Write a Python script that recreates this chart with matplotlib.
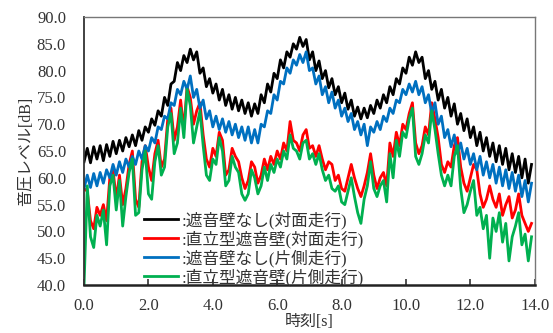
import matplotlib.pyplot as plt
import numpy as np

plt.rcParams['font.family'] = ['Liberation Serif', 'Noto Sans CJK JP', 'DejaVu Sans']

# 時刻 [s] (0.1 s 間隔)
t = np.round(np.arange(0, 14.0, 0.1), 1)

# 遮音壁なし(対面走行)
black = [63.0, 65.5, 62.8, 65.8, 63.5, 66.0, 63.2, 66.2, 64.0, 66.8,
         64.5, 67.0, 65.0, 67.5, 65.8, 68.0, 66.0, 68.8, 67.0, 69.5,
         68.5, 71.0, 69.8, 72.5, 71.5, 75.0, 73.5, 77.5, 78.0, 81.5,
         80.0, 82.8, 81.5, 84.0, 82.0, 83.5, 79.5, 80.5, 77.0, 78.5,
         75.8, 77.5, 74.5, 76.5, 73.5, 75.5, 72.8, 75.0, 72.5, 74.5,
         72.0, 74.0, 71.5, 73.8, 72.0, 75.5, 74.0, 77.5, 76.0, 79.5,
         78.5, 82.0, 80.5, 83.5, 82.5, 85.0, 84.0, 86.2, 84.5, 85.8,
         82.0, 83.5, 80.0, 81.8, 78.5, 80.0, 76.8, 78.5, 75.5, 77.0,
         74.0, 75.8, 72.8, 74.5, 71.5, 73.2, 71.0, 73.0, 71.2, 73.5,
         72.0, 74.5, 73.0, 75.5, 74.0, 77.0, 75.5, 78.5, 77.5, 80.5,
         79.5, 82.5, 81.0, 83.5, 81.5, 82.5, 78.5, 80.0, 76.5, 78.0,
         74.5, 76.5, 73.0, 75.0, 71.5, 73.8, 70.0, 72.0, 68.8, 71.0,
         67.5, 69.5, 66.0, 68.5, 65.0, 67.5, 64.0, 66.5, 63.0, 66.0,
         62.5, 65.5, 61.5, 64.5, 61.0, 64.0, 60.0, 63.5, 59.0, 62.5]

# 直立型遮音壁(対面走行)
red = [58.0, 57.5, 52.0, 50.5, 54.5, 53.0, 55.0, 52.0, 60.0, 61.5,
       56.0, 60.5, 55.0, 58.0, 62.5, 65.0, 56.0, 54.5, 63.0, 66.0,
       62.0, 59.5, 64.5, 67.0, 62.0, 63.5, 71.0, 73.0, 67.0, 69.5,
       74.5, 69.0, 77.0, 75.0, 70.0, 72.5, 74.0, 68.0, 63.5, 62.0,
       65.5, 64.0, 68.5, 67.0, 60.5, 61.5, 65.5, 64.0, 63.0, 60.0,
       58.0, 59.5, 63.0, 62.0, 59.0, 60.5, 63.5, 61.5, 64.0, 62.5,
       65.0, 63.5, 66.5, 65.0, 70.5, 67.0, 66.5, 65.0, 68.0, 69.0,
       65.5, 66.0, 64.0, 66.0, 63.5, 61.5, 63.0, 62.5, 59.5, 60.5,
       58.0, 57.5, 60.0, 62.5, 60.0, 58.0, 56.5, 58.5, 61.0, 64.5,
       60.5, 58.0, 60.0, 61.0, 58.5, 66.5, 64.0, 68.5, 66.0, 70.0,
       69.0, 72.0, 74.0, 66.5, 64.5, 66.0, 69.5, 68.0, 74.0, 71.0,
       67.5, 62.5, 61.0, 63.0, 62.0, 66.0, 67.5, 62.0, 59.0, 57.5,
       60.0, 62.5, 61.5, 57.0, 54.5, 56.0, 58.5, 56.0, 54.5, 57.0,
       53.0, 55.0, 56.5, 52.5, 54.0, 57.0, 53.0, 51.5, 50.0, 51.5]

# 遮音壁なし(片側走行)
blue = [58.0, 60.5, 58.2, 60.8, 58.5, 61.0, 59.0, 61.5, 60.0, 62.5,
        60.5, 63.0, 61.0, 63.5, 62.0, 64.0, 62.5, 65.0, 63.5, 66.0,
        65.0, 67.5, 66.5, 69.5, 69.0, 71.5, 71.0, 74.0, 73.5, 76.5,
        75.5, 78.0, 76.5, 79.0, 75.0, 76.5, 73.0, 74.5, 71.0, 72.5,
        69.5, 71.5, 69.0, 71.0, 68.5, 70.5, 68.0, 70.0, 67.5, 69.5,
        67.0, 69.5, 66.5, 69.0, 66.5, 70.0, 69.5, 72.5, 72.0, 75.5,
        74.5, 78.0, 77.5, 80.5, 79.5, 82.0, 81.0, 83.0, 81.5, 83.5,
        80.0, 80.5, 77.5, 79.0, 75.5, 77.0, 74.0, 76.0, 73.0, 74.5,
        71.5, 73.0, 70.5, 72.0, 69.0, 70.5, 68.0, 70.0, 66.0, 69.5,
        68.5, 70.5, 69.0, 71.5, 70.5, 73.0, 72.0, 74.5, 74.0, 76.5,
        75.5, 77.5, 76.0, 78.0, 75.5, 77.0, 74.0, 75.5, 72.0, 74.0,
        70.0, 71.5, 67.5, 69.0, 65.8, 68.0, 64.5, 66.5, 63.5, 65.5,
        62.5, 64.5, 61.5, 64.0, 60.5, 63.0, 60.0, 62.5, 59.0, 62.0,
        58.5, 61.5, 58.0, 61.0, 57.5, 60.5, 56.5, 59.5, 55.5, 59.0]

# 直立型遮音壁(片側走行)
green = [40.0, 58.5, 49.0, 47.0, 53.0, 51.0, 54.0, 47.5, 58.5, 60.5,
         54.0, 59.5, 51.0, 56.5, 61.0, 63.5, 53.0, 53.5, 61.5, 65.0,
         57.0, 56.0, 63.0, 66.0, 60.5, 62.0, 69.5, 72.0, 64.5, 66.5,
         73.0, 67.5, 76.5, 73.5, 66.5, 69.5, 72.5, 66.0, 60.5, 59.5,
         63.5, 62.5, 67.5, 65.0, 58.5, 59.5, 64.0, 62.0, 61.0, 57.0,
         55.8, 57.0, 61.5, 60.0, 57.0, 58.5, 62.0, 59.5, 62.5, 61.0,
         63.5, 62.0, 65.0, 63.5, 68.0, 65.5, 65.0, 63.5, 66.5, 67.0,
         63.5, 64.5, 62.5, 64.5, 61.5, 59.5, 60.5, 58.0, 57.5, 58.5,
         55.5, 55.0, 57.5, 60.0, 56.5, 53.5, 51.5, 56.0, 58.5, 63.0,
         58.0, 56.5, 58.5, 59.5, 55.5, 64.5, 60.0, 67.0, 64.0, 68.5,
         67.5, 71.0, 73.0, 64.0, 62.5, 64.5, 68.0, 66.5, 72.5, 69.0,
         64.5, 60.5, 58.5, 60.5, 58.5, 64.0, 66.0, 58.0, 53.5, 55.0,
         57.5, 59.5, 53.0, 54.5, 50.5, 53.0, 45.0, 52.5, 50.0, 53.5,
         48.0, 51.5, 44.5, 49.0, 51.0, 53.5, 47.5, 49.5, 44.5, 49.0]

labels = [':遮音壁なし(対面走行)', ':直立型遮音壁(対面走行)',
          ':遮音壁なし(片側走行)', ':直立型遮音壁(片側走行)']

fig = plt.figure(figsize=(5.53, 3.33), dpi=100)
ax = fig.add_axes([0.152, 0.144, 0.815, 0.805])

ax.plot(t, black, color='black', lw=2.0, label=labels[0])
ax.plot(t, red, color='#ff0000', lw=2.0, label=labels[1])
ax.plot(t, blue, color='#0070c0', lw=2.0, label=labels[2])
ax.plot(t, green, color='#00b050', lw=2.0, label=labels[3])

ax.set_xlim(0, 14)
ax.set_ylim(40, 90)
ax.set_xticks(np.arange(0, 14.1, 2))
ax.set_xticklabels([f'{v:.1f}' for v in np.arange(0, 14.1, 2)])
ax.set_yticks(np.arange(40, 90.1, 5))
ax.set_yticklabels([f'{v:.1f}' for v in np.arange(40, 90.1, 5)])
ax.tick_params(axis='x', direction='in', length=4, width=1.2, labelsize=12,
               pad=9, colors='#333333')
ax.tick_params(axis='y', length=0, labelsize=12, pad=13, colors='#333333')

for side in ['top', 'right']:
    ax.spines[side].set_color('#777777')
    ax.spines[side].set_linewidth(1.0)
ax.spines['bottom'].set_color('#222222')
ax.spines['bottom'].set_linewidth(1.8)
ax.spines['left'].set_color('#333333')
ax.spines['left'].set_linewidth(1.3)

ax.set_xlabel('時刻[s]', fontsize=11.5, labelpad=0, color='#333333')
ax.set_ylabel('音圧レベル[dB]', fontsize=11.5, labelpad=2, color='#333333')

ax.legend(loc='lower left', bbox_to_anchor=(0.115, -0.035), frameon=False,
          fontsize=12, handlelength=2.0, handletextpad=0.25,
          labelspacing=0.08, borderpad=0, labelcolor='#333333')

fig.savefig('out.png', dpi=100)
